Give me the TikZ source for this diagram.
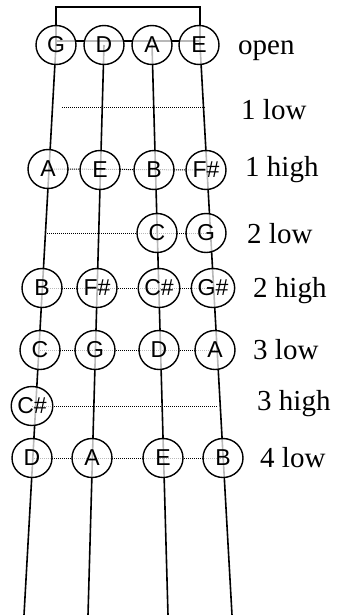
\documentclass[tikz,border=0pt]{standalone}
\usepackage{fontspec}
\setmainfont{Liberation Serif}
\newfontfamily\notefont{Liberation Sans}
\usetikzlibrary{shapes.geometric,calc}
\begin{document}
\begin{tikzpicture}[x=1pt,y=-1pt,
  note/.style={ellipse,draw,line width=1.4pt,minimum width=40,minimum height=39,inner sep=0pt,
    fill=white,fill opacity=0.72,text opacity=1,font={\notefont\fontsize{23}{25}\selectfont}},
  strg/.style={line width=1.6pt},
  fret/.style={line width=1pt,dash pattern=on 1pt off 1pt},
  lbl/.style={anchor=base west,inner sep=0pt,font=\fontsize{29}{31}\selectfont}]
\useasboundingbox (0,0) rectangle (337,615);
% strings
\coordinate (Gt) at (56,45); \coordinate (Gb) at (24,615);
\coordinate (Dt) at (104,45); \coordinate (Db) at (88,615);
\coordinate (At) at (152,45); \coordinate (Ab) at (168,615);
\coordinate (Et) at (200,45); \coordinate (Eb) at (232,615);
\coordinate (Bl) at (56,7); \coordinate (Br) at (200,7);
\draw[strg] (Gb) -- (Gt) -- (Bl) -- (Br) -- (Et) -- (Eb);
\draw[strg] (Dt) -- (Db);
\draw[strg] (At) -- (Ab);
% nut line
\coordinate (Nl) at (56,41); \coordinate (Nr) at (200,41);
\draw[line width=1.5pt] (Nl) -- (Nr);
% fret lines
\coordinate (L1a) at (62,108); \coordinate (L1b) at (205,108);
\draw[fret] (L1a) -- (L1b);
\coordinate (L2a) at (47,233);
\coordinate (L3b) at (217,406);
% note positions
\path (56,45) coordinate (p0G) (104,45) coordinate (p0D) (152,45) coordinate (p0A) (199,45) coordinate (p0E);
\path (48,169) coordinate (p1A) (100,170) coordinate (p1E) (154,170) coordinate (p1B) (206,170) coordinate (p1F);
\path (157,233) coordinate (p2C) (206,233) coordinate (p2G);
\path (42,288) coordinate (p3B) (97,288) coordinate (p3F) (159,288) coordinate (p3C) (213,288) coordinate (p3G);
\path (40,350) coordinate (p4C) (95,350) coordinate (p4G) (159,350) coordinate (p4D) (215,350) coordinate (p4A);
\path (32,406) coordinate (p5C);
\path (32,458) coordinate (p6D) (92,458) coordinate (p6A) (163,458) coordinate (p6E) (223,458) coordinate (p6B);
\draw[fret] (p1A) -- (p1F);
\draw[fret] (L2a) -- (p2G);
\draw[fret] (p3B) -- (p3G);
\draw[fret] (p4C) -- (p4A);
\draw[fret] (p5C) -- (L3b);
\draw[fret] (p6D) -- (p6B);
% notes
\node[note] (n0G) at (p0G) {G};
\node[note] (n0D) at (p0D) {D};
\node[note] (n0A) at (p0A) {A};
\node[note] (n0E) at (p0E) {E};
\node[note] (n1A) at (p1A) {A};
\node[note] (n1E) at (p1E) {E};
\node[note] (n1B) at (p1B) {B};
\node[note] (n1F) at (p1F) {F\#};
\node[note] (n2C) at (p2C) {C};
\node[note] (n2G) at (p2G) {G};
\node[note] (n3B) at (p3B) {B};
\node[note] (n3F) at (p3F) {F\#};
\node[note] (n3C) at (p3C) {C\#};
\node[note] (n3G) at (p3G) {G\#};
\node[note] (n4C) at (p4C) {C};
\node[note] (n4G) at (p4G) {G};
\node[note] (n4D) at (p4D) {D};
\node[note] (n4A) at (p4A) {A};
\node[note] (n5C) at (p5C) {C\#};
\node[note] (n6D) at (p6D) {D};
\node[note] (n6A) at (p6A) {A};
\node[note] (n6E) at (p6E) {E};
\node[note] (n6B) at (p6B) {B};
% labels
\node[lbl] (t0) at (238,55) {open};
\node[lbl] (t1) at (241,119) {1 low};
\node[lbl] (t2) at (245,176) {1 high};
\node[lbl] (t3) at (247,243) {2 low};
\node[lbl] (t4) at (253,297) {2 high};
\node[lbl] (t5) at (253,359) {3 low};
\node[lbl] (t6) at (257,410) {3 high};
\node[lbl] (t7) at (260,467) {4 low};
\end{tikzpicture}
\end{document}
